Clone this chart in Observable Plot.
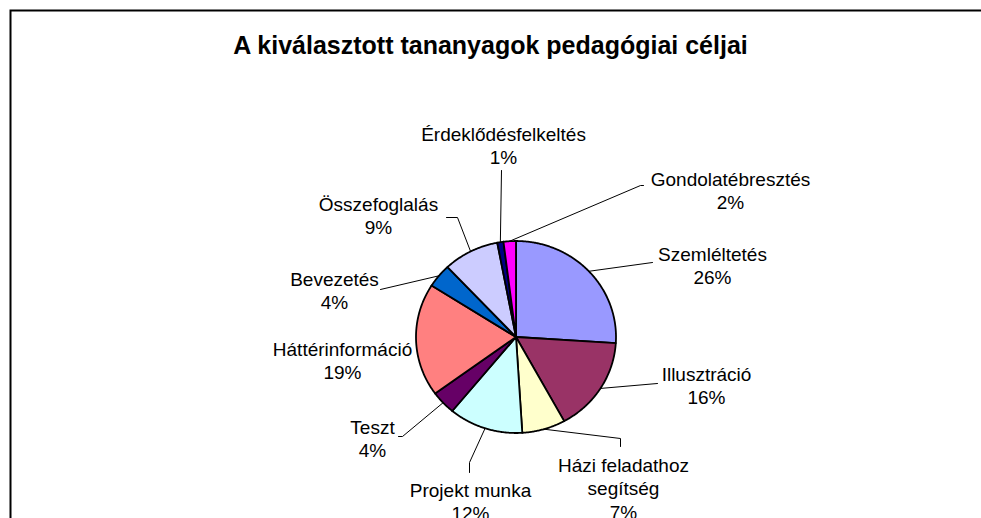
<!DOCTYPE html>
<html><head><meta charset="utf-8">
<script src="https://cdn.jsdelivr.net/npm/d3@7"></script>
<script src="https://cdn.jsdelivr.net/npm/@observablehq/plot@0.6"></script>
<style>html,body{margin:0;padding:0;background:#fff;overflow:hidden}</style>
</head><body><div id="chart"></div>
<script>
// ---- data ----
const title = "A kiválasztott tananyagok pedagógiai céljai";
const categories = ["Szemléltetés","Illusztráció","Házi feladathoz segítség","Projekt munka","Teszt","Háttérinformáció","Bevezetés","Összefoglalás","Érdeklődésfelkeltés","Gondolatébresztés"];
const categoryLabels = ["Szemléltetés","Illusztráció","Házi feladathoz\nsegítség","Projekt munka","Teszt","Háttérinformáció","Bevezetés","Összefoglalás","Érdeklődésfelkeltés","Gondolatébresztés"];
const percents = [26,16,7,12,4,19,4,9,1,2];

// ---- style / layout ----
const palette = ["#9999FF","#993366","#FFFFCC","#CCFFFF","#660066","#FF8080","#0066CC","#CCCCFF","#000080","#FF00FF"];
const W = 981, H = 518;
const font = "'Liberation Sans', Arial, sans-serif";
const fs = 19, lh = 23.5;
const titleFs = 25;
const titlePos = [490, 53];
const pieGeom = {cx: 515.5, cy: 336.5, rx: 100, ry: 96};
const labelAnchors = [[712,257],[706,377],[623,468],[470,493],[372,430],[342,352],[334,282],[378,207],[503,137],[730,182]];
const leaderEnds = [[[652,262]],[[657,383]],[[620,438],[620,446]],[[469,462],[469,472]],[[402,436],[398,436]],[],[[380,289]],[[457,217],[446,217]],[[501,170]],[[640,185],[643,185]]];

// ---- geometry ----
const arcs = d3.pie().sort(null).value(d => d)(percents);
const pt = a => [pieGeom.cx + pieGeom.rx * Math.sin(a), pieGeom.cy - pieGeom.ry * Math.cos(a)];
const slicePts = [];
arcs.forEach((a, i) => {
  const name = categories[i];
  slicePts.push({name, p: [pieGeom.cx, pieGeom.cy]});
  const n = Math.max(2, Math.ceil((a.endAngle - a.startAngle) / (Math.PI / 360)));
  for (let k = 0; k <= n; k++) {
    const ang = a.startAngle + (a.endAngle - a.startAngle) * k / n;
    slicePts.push({name, p: pt(ang)});
  }
  slicePts.push({name, p: [pieGeom.cx, pieGeom.cy]});
});
const leaderPts = [];
arcs.forEach((a, i) => {
  if (!leaderEnds[i].length) return;
  const mid = (a.startAngle + a.endAngle) / 2;
  leaderPts.push({name: categories[i], p: pt(mid)});
  leaderEnds[i].forEach(e => leaderPts.push({name: categories[i], p: e}));
});
const labels = categories.map((c, i) => ({
  name: c,
  text: categoryLabels[i] + "\n" + percents[i] + "%",
  x: labelAnchors[i][0],
  y: labelAnchors[i][1] - 0.71 * fs
}));

const chart = Plot.plot({
  width: W, height: H,
  margin: 0,
  x: {domain: [0, W], range: [0, W], axis: null},
  y: {domain: [0, H], range: [0, H], axis: null},
  color: {domain: categories, range: palette},
  style: {fontFamily: font, background: "white"},
  marks: [
    Plot.frame({insetLeft: 10, insetTop: 10, insetRight: -20, insetBottom: -20, stroke: "black", strokeWidth: 2}),
    Plot.line(slicePts, {x: d => d.p[0], y: d => d.p[1], z: "name", fill: "name", stroke: "black", strokeWidth: 1.8, curve: "linear", strokeLinejoin: "round"}),
    Plot.line(leaderPts, {x: d => d.p[0], y: d => d.p[1], z: "name", stroke: "black", strokeWidth: 1}),
    Plot.text(labels, {x: "x", y: "y", text: "text", lineAnchor: "top", lineHeight: lh / fs, fontSize: fs, fill: "black", textAnchor: "middle", letterSpacing: "-0.2px"}),
    Plot.text([title], {x: () => titlePos[0], y: () => titlePos[1] - 0.71 * titleFs, text: d => d, lineAnchor: "top", fontSize: titleFs, fontWeight: "bold", fill: "black", letterSpacing: "-0.75px"})
  ]
});
document.getElementById("chart").appendChild(chart);
</script>
</body></html>
